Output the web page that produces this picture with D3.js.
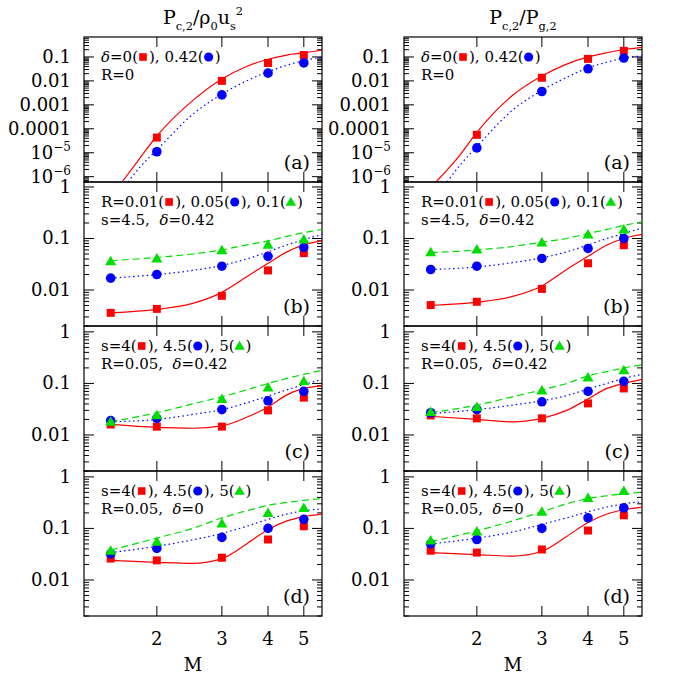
<!DOCTYPE html>
<html><head><meta charset="utf-8">
<script src="https://cdn.jsdelivr.net/npm/d3@7/dist/d3.min.js"></script>
<style>body{margin:0;background:#fff} text{white-space:pre}</style></head>
<body><svg id="c" width="678" height="678"></svg>
<script>
// ---------- data ----------
const ptM = [1.5, 2, 3, 4, 5];
const curveM = [1.5, 2, 2.5, 3, 3.5, 4, 4.5, 5, 5.6];
const xTicks = [2, 3, 4, 5];
const titles = ["P_{c,2}/ρ_{0}u_{s}^{2}", "P_{c,2}/P_{g,2}"];
const panelTags = ["(a)", "(b)", "(c)", "(d)"];
const yTicksA = [0.1, 0.01, 0.001, 0.0001, 1e-5, 1e-6];
const yTicksA_labels = ["0.1", "0.01", "0.001", "0.0001", "10^-5", "10^-6"];
const yTicksB = [1, 0.1, 0.01];
const yTicksB_labels = ["1", "0.1", "0.01"];

const ptMA = [2, 3, 4, 5];
const curveMA_L_red = [1.61, 1.8, 2, 2.5, 3, 3.5, 4, 4.5, 5, 5.6];
const curveMA_L_blue = [1.67, 1.8, 2, 2.5, 3, 3.5, 4, 4.5, 5, 5.6];
const curveMA_R_red = [1.55, 1.8, 2, 2.5, 3, 3.5, 4, 4.5, 5, 5.6];
const curveMA_R_blue = [1.66, 1.8, 2, 2.5, 3, 3.5, 4, 4.5, 5, 5.6];

// left column
const La_redPts = [4.3e-5, 0.010, 0.056, 0.12];
const La_bluePts = [1.1e-5, 0.0026, 0.021, 0.056];
const La_redLine = [6e-7, 6e-6, 5e-5, 1.5e-3, 0.012, 0.04, 0.08, 0.12, 0.15, 0.19];
const La_blueLine = [6e-7, 2.5e-6, 1.3e-5, 4e-4, 0.0028, 0.01, 0.024, 0.045, 0.07, 0.1];

const Lb_redPts = [0.0036, 0.0043, 0.0077, 0.024, 0.052];
const Lb_bluePts = [0.017, 0.020, 0.029, 0.045, 0.067];
const Lb_greenPts = [0.036, 0.041, 0.059, 0.076, 0.096];
const Lb_redLine = [0.0036, 0.0042, 0.0055, 0.009, 0.018, 0.033, 0.055, 0.075, 0.09];
const Lb_blueLine = [0.017, 0.02, 0.024, 0.03, 0.04, 0.055, 0.075, 0.095, 0.12];
const Lb_greenLine = [0.037, 0.043, 0.05, 0.06, 0.075, 0.09, 0.11, 0.13, 0.15];

const Lc_redPts = [0.016, 0.0145, 0.0145, 0.030, 0.053];
const Lc_bluePts = [0.019, 0.021, 0.031, 0.046, 0.07];
const Lc_greenPts = [0.018, 0.024, 0.05, 0.083, 0.11];
const Lc_redLine = [0.016, 0.014, 0.0135, 0.015, 0.022, 0.035, 0.06, 0.08, 0.09];
const Lc_blueLine = [0.018, 0.02, 0.025, 0.031, 0.042, 0.057, 0.075, 0.095, 0.12];
const Lc_greenLine = [0.018, 0.027, 0.04, 0.055, 0.075, 0.1, 0.125, 0.15, 0.18];

const Ld_redPts = [0.026, 0.024, 0.027, 0.061, 0.11];
const Ld_bluePts = [0.032, 0.041, 0.067, 0.10, 0.15];
const Ld_greenPts = [0.037, 0.055, 0.125, 0.20, 0.25];
const Ld_redLine = [0.024, 0.022, 0.021, 0.026, 0.05, 0.095, 0.14, 0.17, 0.19];
const Ld_blueLine = [0.034, 0.045, 0.06, 0.08, 0.11, 0.15, 0.19, 0.22, 0.24];
const Ld_greenLine = [0.038, 0.065, 0.1, 0.16, 0.22, 0.28, 0.32, 0.35, 0.38];

// right column
const Ra_redPts = [5.6e-5, 0.0135, 0.083, 0.18];
const Ra_bluePts = [1.6e-5, 0.0036, 0.032, 0.09];
const Ra_redLine = [6e-7, 8e-6, 7e-5, 2.5e-3, 0.016, 0.05, 0.1, 0.15, 0.2, 0.25];
const Ra_blueLine = [6e-7, 3e-6, 1.8e-5, 6e-4, 0.004, 0.014, 0.035, 0.06, 0.09, 0.11];

const Rb_redPts = [0.0051, 0.0059, 0.0105, 0.033, 0.074];
const Rb_bluePts = [0.025, 0.029, 0.041, 0.064, 0.10];
const Rb_greenPts = [0.054, 0.061, 0.084, 0.12, 0.15];
const Rb_redLine = [0.005, 0.0058, 0.0075, 0.012, 0.025, 0.045, 0.075, 0.1, 0.12];
const Rb_blueLine = [0.025, 0.028, 0.034, 0.042, 0.055, 0.075, 0.1, 0.125, 0.16];
const Rb_greenLine = [0.053, 0.06, 0.07, 0.085, 0.1, 0.125, 0.15, 0.18, 0.21];

const Rc_redPts = [0.024, 0.021, 0.021, 0.041, 0.08];
const Rc_bluePts = [0.027, 0.031, 0.044, 0.07, 0.11];
const Rc_greenPts = [0.028, 0.035, 0.073, 0.13, 0.18];
const Rc_redLine = [0.023, 0.02, 0.018, 0.021, 0.03, 0.05, 0.08, 0.1, 0.12];
const Rc_blueLine = [0.026, 0.031, 0.038, 0.046, 0.058, 0.078, 0.1, 0.125, 0.15];
const Rc_greenLine = [0.027, 0.038, 0.055, 0.075, 0.1, 0.14, 0.17, 0.2, 0.23];

const Rd_redPts = [0.037, 0.034, 0.039, 0.091, 0.18];
const Rd_bluePts = [0.05, 0.061, 0.10, 0.16, 0.25];
const Rd_greenPts = [0.058, 0.087, 0.21, 0.39, 0.53];
const Rd_redLine = [0.034, 0.031, 0.029, 0.036, 0.07, 0.13, 0.19, 0.23, 0.26];
const Rd_blueLine = [0.05, 0.065, 0.085, 0.12, 0.16, 0.21, 0.26, 0.3, 0.33];
const Rd_greenLine = [0.055, 0.09, 0.14, 0.21, 0.3, 0.38, 0.43, 0.47, 0.5];

const annA = [["δ", "=0(", "{r}", "), 0.42(", "{b}", ")"], ["R=0"]];
const annB = [["R=0.01(", "{r}", "), 0.05(", "{b}", "), 0.1(", "{g}", ")"], ["s=4.5,  ", "δ", "=0.42"]];
const annC = [["s=4(", "{r}", "), 4.5(", "{b}", "), 5(", "{g}", ")"], ["R=0.05,  ", "δ", "=0.42"]];
const annD = [["s=4(", "{r}", "), 4.5(", "{b}", "), 5(", "{g}", ")"], ["R=0.05,  ", "δ", "=0"]];

// ---------- layout ----------
const RED = "#ff0000", BLUE = "#0000ff", GREEN = "#00dd00";
const colX = [84, 404], colW = 238;
const panelTop = [37, 182, 326, 471], panelH = [145, 144, 145, 145];
const svg = d3.select("#c");
const serif = "'DejaVu Serif','Liberation Serif',serif";

const columns = [
  {title: titles[0], panels: [
    {tag:0, ann:annA, red:[ptMA, La_redPts, curveMA_L_red, La_redLine], blue:[ptMA, La_bluePts, curveMA_L_blue, La_blueLine]},
    {tag:1, ann:annB, red:[ptM, Lb_redPts, curveM, Lb_redLine], blue:[ptM, Lb_bluePts, curveM, Lb_blueLine], green:[ptM, Lb_greenPts, curveM, Lb_greenLine]},
    {tag:2, ann:annC, red:[ptM, Lc_redPts, curveM, Lc_redLine], blue:[ptM, Lc_bluePts, curveM, Lc_blueLine], green:[ptM, Lc_greenPts, curveM, Lc_greenLine]},
    {tag:3, ann:annD, red:[ptM, Ld_redPts, curveM, Ld_redLine], blue:[ptM, Ld_bluePts, curveM, Ld_blueLine], green:[ptM, Ld_greenPts, curveM, Ld_greenLine]}]},
  {title: titles[1], panels: [
    {tag:0, ann:annA, red:[ptMA, Ra_redPts, curveMA_R_red, Ra_redLine], blue:[ptMA, Ra_bluePts, curveMA_R_blue, Ra_blueLine]},
    {tag:1, ann:annB, red:[ptM, Rb_redPts, curveM, Rb_redLine], blue:[ptM, Rb_bluePts, curveM, Rb_blueLine], green:[ptM, Rb_greenPts, curveM, Rb_greenLine]},
    {tag:2, ann:annC, red:[ptM, Rc_redPts, curveM, Rc_redLine], blue:[ptM, Rc_bluePts, curveM, Rc_blueLine], green:[ptM, Rc_greenPts, curveM, Rc_greenLine]},
    {tag:3, ann:annD, red:[ptM, Rd_redPts, curveM, Rd_redLine], blue:[ptM, Rd_bluePts, curveM, Rd_blueLine], green:[ptM, Rd_greenPts, curveM, Rd_greenLine]}]}
];

function drawMarker(g, type, x, y, s) {
  s = s || 1;
  if (type === "r") g.append("rect").attr("x", x-4*s).attr("y", y-4*s).attr("width", 8*s).attr("height", 8*s).attr("fill", RED);
  else if (type === "b") g.append("circle").attr("cx", x).attr("cy", y).attr("r", 4.8*s).attr("fill", BLUE);
  else g.append("path").attr("d", `M${x},${y-5.5*s}L${x+5.5*s},${y+4*s}L${x-5.5*s},${y+4*s}Z`).attr("fill", GREEN);
}

// title with sub/superscripts: tokens of normal text, _{..}, ^{..}
function mathText(g, str, x, y, size) {
  const t = g.append("text").attr("x", x).attr("y", y).attr("font-family", serif).attr("font-size", size).attr("text-anchor", "middle");
  const re = /([_^])\{([^}]*)\}|([^_^]+)/g;
  let m, base = 0, cur = 0;
  while ((m = re.exec(str))) {
    let target, txt, fs;
    if (m[3] !== undefined) { target = 0; txt = m[3]; fs = size; }
    else { target = m[1] === "_" ? size*0.3 : -size*0.45; txt = m[2]; fs = size*0.6; }
    t.append("tspan").attr("dy", target - cur).attr("font-size", fs).text(txt);
    cur = target;
  }
  return t;
}

columns.forEach((col, ci) => {
  const x0 = colX[ci];
  const x = d3.scaleLog().domain([1.27, 5.6]).range([x0, x0 + colW]);
  mathText(svg, col.title, x0 + colW/2, 24, 19);

  col.panels.forEach((p, pi) => {
    const top = panelTop[pi], h = panelH[pi];
    const dom = pi === 0 ? [6e-7, 0.68] : (pi === 1 ? [0.002, 1.25] : [0.002, 1.3]);
    const y = d3.scaleLog().domain(dom).range([top + h, top]);
    const g = svg.append("g");
    const cid = `clip${ci}${pi}`;
    svg.append("clipPath").attr("id", cid).append("rect").attr("x", x0).attr("y", top).attr("width", colW).attr("height", h);

    const [lo, hi] = dom;
    const minor = [];
    for (let e = Math.floor(Math.log10(lo)); e <= Math.ceil(Math.log10(hi)); e++)
      for (let k = 1; k <= 9; k++) { const v = k * Math.pow(10, e); if (v >= lo && v <= hi) minor.push([v, k === 1]); }
    minor.forEach(([v, major]) => {
      const yy = y(v);
      const len = major ? 10 : 5;
      g.append("line").attr("x1", x0).attr("x2", x0+len).attr("y1", yy).attr("y2", yy).attr("stroke", "#000").attr("stroke-width", 1);
      g.append("line").attr("x1", x0+colW).attr("x2", x0+colW-len).attr("y1", yy).attr("y2", yy).attr("stroke", "#000").attr("stroke-width", 1);
    });
    const labs = pi === 0 ? yTicksA : yTicksB, labT = pi === 0 ? yTicksA_labels : yTicksB_labels;
    labs.forEach((v, i) => {
      if (v > hi) return;
      const s = labT[i];
      const t = g.append("text").attr("x", x0 - 13).attr("y", y(v) + 6).attr("font-family", serif).attr("font-size", 18).attr("text-anchor", "end");
      if (s.startsWith("10^")) {
        t.append("tspan").text("10");
        t.append("tspan").attr("dy", -8).attr("font-size", 12).text("−" + s.slice(4));
      } else t.text(s);
    });
    xTicks.forEach(v => {
      g.append("line").attr("x1", x(v)).attr("x2", x(v)).attr("y1", top).attr("y2", top + 10).attr("stroke", "#000");
      g.append("line").attr("x1", x(v)).attr("x2", x(v)).attr("y1", top + h).attr("y2", top + h - 10).attr("stroke", "#000");
    });
    if (pi === 3) {
      xTicks.forEach(v => g.append("text").attr("x", x(v)).attr("y", top + h + 29).attr("font-family", serif).attr("font-size", 18).attr("text-anchor", "middle").text(v));
      g.append("text").attr("x", x0 + colW/2 - 10).attr("y", top + h + 55).attr("font-family", serif).attr("font-size", 18).attr("text-anchor", "middle").text("M");
    }
    g.append("rect").attr("x", x0).attr("y", top).attr("width", colW).attr("height", h).attr("fill", "none").attr("stroke", "#000").attr("stroke-width", 1.2);

    const cg = g.append("g").attr("clip-path", `url(#${cid})`);
    const series = [["red", RED, null], ["blue", BLUE, "1.5,3"], ["green", GREEN, "7,4"]];
    series.forEach(([key, colr, dash]) => {
      const s = p[key]; if (!s) return;
      const pts = s[2].map((m, i) => [m, s[3][i]]);
      const line = d3.line().x(d => x(d[0])).y(d => y(d[1])).curve(d3.curveMonotoneX);
      cg.append("path").attr("d", line(pts)).attr("fill", "none").attr("stroke", colr).attr("stroke-width", 1.2).attr("stroke-dasharray", dash);
    });
    series.forEach(([key]) => {
      const s = p[key]; if (!s) return;
      s[0].forEach((m, i) => drawMarker(cg, key[0], x(m), y(s[1][i])));
    });

    g.append("text").attr("x", x0 + colW - 12).attr("y", top + h - 13).attr("font-family", serif).attr("font-size", 19).attr("text-anchor", "end").text(panelTags[p.tag]);

    p.ann.forEach((segs, li) => {
      let cx = x0 + 17;
      const yy = top + 25 + li * 18;
      segs.forEach(seg => {
        if (seg.startsWith("{")) {
          drawMarker(g, seg[1], cx + 5, yy - 5, 0.95);
          cx += 11;
        } else {
          const t = g.append("text").attr("x", cx).attr("y", yy).attr("font-family", serif).attr("font-size", 15).text(seg);
          if (seg === "δ") t.attr("font-style", "italic");
          cx += t.node().getComputedTextLength();
        }
      });
    });
  });
});
</script></body></html>
